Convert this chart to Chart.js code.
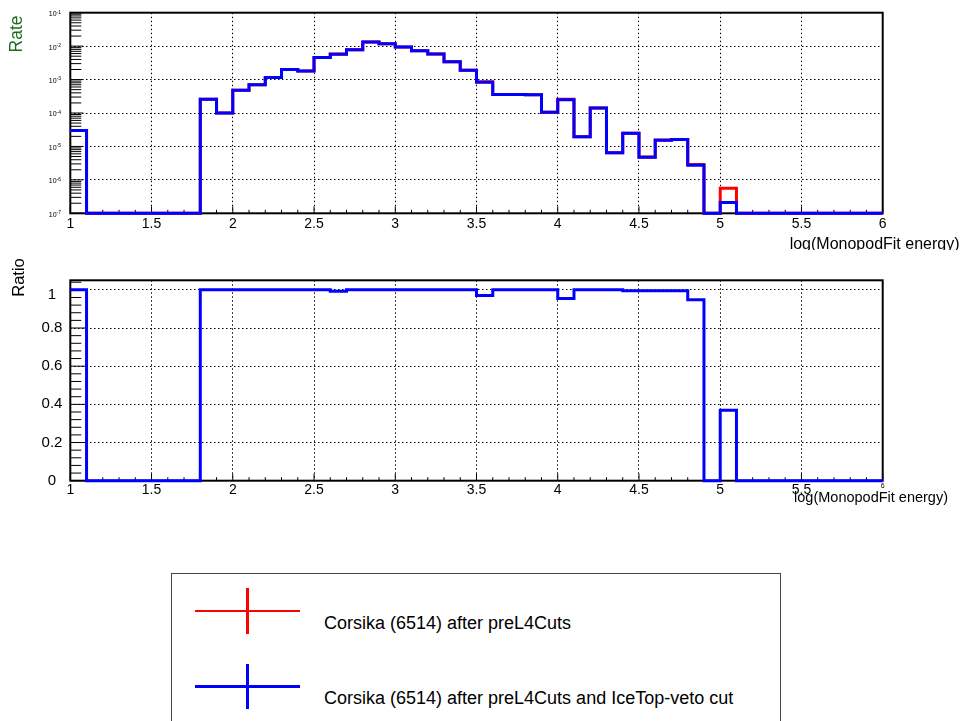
<!DOCTYPE html>
<html>
<head>
<meta charset="utf-8">
<title>Rate and ratio</title>
<script src="https://cdn.jsdelivr.net/npm/chart.js@4.4.1/dist/chart.umd.min.js"></script>
<style>
  body { margin: 0; background: #fff; }
  #wrap { position: relative; width: 964px; height: 721px; overflow: hidden;
          font-family: "Liberation Sans", Arial, Helvetica, sans-serif; }
  canvas { position: absolute; left: 0; }
  #rateChart { top: 0; }
  #ratioChart { top: 250px; }
  #legend { position: absolute; left: 171px; top: 573px; width: 610px; height: 170px;
            border: 1.5px solid #444; box-sizing: border-box; }
  .bar { position: absolute; }
  .entry { position: absolute; left: 324px; font-size: 18px; line-height: 20px; color: #000; white-space: nowrap; }
</style>
</head>
<body>
<div id="wrap">
  <canvas id="rateChart" width="964" height="250"></canvas>
  <canvas id="ratioChart" width="964" height="260"></canvas>
  <div id="legend"></div>
</div>
<script>
// bin edges of log(MonopodFit energy), 50 bins
const binEdges = [1.0, 1.1, 1.2, 1.3, 1.4, 1.5, 1.6, 1.7, 1.8, 1.9,
                  2.0, 2.1, 2.2, 2.3, 2.4, 2.5, 2.6, 2.7, 2.8, 2.9,
                  3.0, 3.1, 3.2, 3.3, 3.4, 3.5, 3.6, 3.7, 3.8, 3.9,
                  4.0, 4.1, 4.2, 4.3, 4.4, 4.5, 4.6, 4.7, 4.8, 4.9,
                  5.0, 5.1, 5.2, 5.3, 5.4, 5.5, 5.6, 5.7, 5.8, 5.9, 6.0];

// rate after preL4Cuts
const rateAll = [3.0e-5, 0, 0, 0, 0, 0, 0, 0, 2.6e-4, 1.0e-4,
                 4.8e-4, 7.0e-4, 1.15e-3, 2.0e-3, 1.8e-3, 4.6e-3, 5.8e-3, 7.8e-3, 1.33e-2, 1.18e-2,
                 9.4e-3, 7.3e-3, 5.8e-3, 3.4e-3, 1.9e-3, 8.6e-4, 3.6e-4, 3.6e-4, 3.5e-4, 1.05e-4,
                 2.6e-4, 1.95e-5, 1.4e-4, 6.5e-6, 2.5e-5, 4.8e-6, 1.55e-5, 1.62e-5, 2.9e-6, 0,
                 5.6e-7, 0, 0, 0, 0, 0, 0, 0, 0, 0];

// rate after preL4Cuts and IceTop-veto cut
const rateVeto = [3.0e-5, 0, 0, 0, 0, 0, 0, 0, 2.6e-4, 1.0e-4,
                  4.8e-4, 7.0e-4, 1.15e-3, 2.0e-3, 1.8e-3, 4.6e-3, 5.76e-3, 7.8e-3, 1.33e-2, 1.18e-2,
                  9.4e-3, 7.3e-3, 5.8e-3, 3.4e-3, 1.9e-3, 8.3e-4, 3.6e-4, 3.6e-4, 3.5e-4, 1.05e-4,
                  2.48e-4, 1.95e-5, 1.4e-4, 6.5e-6, 2.49e-5, 4.78e-6, 1.54e-5, 1.61e-5, 2.75e-6, 0,
                  2.1e-7, 0, 0, 0, 0, 0, 0, 0, 0, 0];

// ratio veto / all
const ratioVeto = [1, 0, 0, 0, 0, 0, 0, 0, 1, 1,
                   1, 1, 1, 1, 1, 1, 0.993, 1, 1, 1,
                   1, 1, 1, 1, 1, 0.97, 1, 1, 1, 1,
                   0.955, 1, 1, 1, 0.995, 0.995, 0.995, 0.995, 0.948, 0,
                   0.369, 0, 0, 0, 0, 0, 0, 0, 0, 0];

const xTicks = [1, 1.5, 2, 2.5, 3, 3.5, 4, 4.5, 5, 5.5, 6];
const rateTicks = [1e-7, 1e-6, 1e-5, 1e-4, 1e-3, 1e-2, 1e-1];
const ratioTicks = [0, 0.2, 0.4, 0.6, 0.8, 1];

const seriesLabels = ['Corsika (6514) after preL4Cuts', 'Corsika (6514) after preL4Cuts and IceTop-veto cut'];
const seriesColors = ['#ff0000', '#0000ff'];

const rateMin = 1e-7, rateMax = 1e-1;
const FONT = '"Liberation Sans", Arial, Helvetica, sans-serif';
Chart.defaults.font.family = FONT;
Chart.defaults.color = '#000';

// histogram as step line: one point per lower edge + closing point at the last edge
function stepPoints(values, floor) {
  const pts = values.map((v, i) => ({ x: binEdges[i], y: v > 0 ? v : floor }));
  pts.push({ x: binEdges[binEdges.length - 1], y: pts[pts.length - 1].y });
  return pts;
}

function line(ctx, x1, y1, x2, y2) {
  ctx.beginPath(); ctx.moveTo(x1, y1); ctx.lineTo(x2, y2); ctx.stroke();
}

// ROOT-like frame, inner tick marks, labels and titles
function makeRootAxes(cfg) {
  return {
    id: 'rootAxes',
    beforeDatasetsDraw(chart) {
      const { ctx, chartArea: a, scales } = chart;
      const xs = scales.x, ys = scales.y;
      ctx.save();
      ctx.strokeStyle = '#000';
      ctx.lineWidth = 1;
      binEdges.forEach(v => {
        const px = xs.getPixelForValue(v);
        const len = xTicks.includes(v) ? cfg.xMajor : cfg.xMinor;
        line(ctx, px, a.bottom, px, a.bottom - len);
      });
      cfg.yMarks.forEach(m => {
        const py = ys.getPixelForValue(m.v);
        line(ctx, a.left, py, a.left + m.len, py);
      });
      ctx.lineWidth = 2;
      ctx.strokeRect(a.left, a.top, a.right - a.left, a.bottom - a.top);
      ctx.fillStyle = '#000';
      cfg.yLabels(ctx, ys);
      cfg.titles.forEach(t => {
        ctx.save();
        ctx.font = t.size + 'px ' + FONT;
        ctx.fillStyle = t.color || '#000';
        ctx.textAlign = t.align;
        ctx.textBaseline = 'middle';
        ctx.translate(t.x, t.y);
        if (t.rotate) ctx.rotate(-Math.PI / 2);
        ctx.fillText(t.text, 0, 0);
        ctx.restore();
      });
      ctx.restore();
    }
  };
}

const rateMarks = [];
rateTicks.forEach((d, i) => {
  rateMarks.push({ v: d, len: 13 });
  if (i < rateTicks.length - 1) {
    for (let k = 2; k <= 9; k++) rateMarks.push({ v: k * d, len: 11 });
  }
});
const ratioMarks = [];
for (let k = 0; k <= 26; k++) ratioMarks.push({ v: k * 0.04, len: k % 5 === 0 ? 17 : 11 });

const histStyle = { borderWidth: 3, pointRadius: 0, stepped: true, fill: false, tension: 0, clip: false };
const gridStyle = { color: '#000', lineWidth: 1, drawTicks: false };
const dotted = { display: false, dash: [1.5, 2.5] };

new Chart(document.getElementById('rateChart'), {
  type: 'line',
  data: {
    datasets: [
      Object.assign({ label: seriesLabels[0], data: stepPoints(rateAll, rateMin), borderColor: seriesColors[0], order: 2 }, histStyle),
      Object.assign({ label: seriesLabels[1], data: stepPoints(rateVeto, rateMin), borderColor: seriesColors[1], order: 1 }, histStyle)
    ]
  },
  options: {
    responsive: false,
    animation: false,
    layout: { padding: { top: 12.7, right: 81.3, left: 0, bottom: 0 } },
    scales: {
      x: {
        type: 'linear', min: 1, max: 6,
        afterBuildTicks: s => { s.ticks = xTicks.map(v => ({ value: v })); },
        afterFit: s => { s.height = 36.7; },
        grid: gridStyle, border: dotted,
        ticks: { padding: 2, font: { size: 14 }, maxRotation: 0, autoSkip: false, callback: v => String(v) }
      },
      y: {
        type: 'logarithmic', min: rateMin, max: rateMax,
        afterBuildTicks: s => { s.ticks = rateTicks.map(v => ({ value: v })); },
        afterFit: s => { s.width = 70.3; },
        grid: gridStyle, border: dotted,
        ticks: { display: false }
      }
    },
    plugins: { legend: { display: false }, tooltip: { enabled: false } }
  },
  plugins: [makeRootAxes({
    xMajor: 7, xMinor: 3.5, yMarks: rateMarks,
    yLabels: (ctx, ys) => {
      rateTicks.forEach(v => {
        const py = ys.getPixelForValue(v);
        const exp = String(Math.round(Math.log10(v)));
        ctx.textAlign = 'right';
        ctx.textBaseline = 'alphabetic';
        ctx.font = '5px ' + FONT;
        const ew = ctx.measureText(exp).width;
        ctx.fillText(exp, 61, py + 0.8);
        ctx.font = '7px ' + FONT;
        ctx.fillText('10', 61 - ew, py + 3.4);
      });
    },
    titles: [
      { text: 'Rate', x: 17.5, y: 34, size: 17.5, color: '#1e6b1e', align: 'center', rotate: true },
      { text: 'log(MonopodFit energy)', x: 959.5, y: 245, size: 16, align: 'right' }
    ]
  })]
});

new Chart(document.getElementById('ratioChart'), {
  type: 'line',
  data: {
    datasets: [
      Object.assign({ label: 'Ratio', data: stepPoints(ratioVeto, 0), borderColor: seriesColors[1] }, histStyle)
    ]
  },
  options: {
    responsive: false,
    animation: false,
    layout: { padding: { top: 30.3, right: 81.3, left: 0, bottom: 0 } },
    scales: {
      x: {
        type: 'linear', min: 1, max: 6,
        afterBuildTicks: s => { s.ticks = xTicks.map(v => ({ value: v })); },
        afterFit: s => { s.height = 29.3; },
        grid: gridStyle, border: dotted,
        ticks: {
          padding: 1, maxRotation: 0, autoSkip: false, callback: v => String(v),
          font: c => ({ size: c.tick && c.tick.value === 6 ? 7 : 14 })
        }
      },
      y: {
        type: 'linear', min: 0, max: 1.05,
        afterBuildTicks: s => { s.ticks = ratioTicks.map(v => ({ value: v })); },
        afterFit: s => { s.width = 70.3; },
        grid: gridStyle, border: dotted,
        ticks: { display: false }
      }
    },
    plugins: { legend: { display: false }, tooltip: { enabled: false } }
  },
  plugins: [makeRootAxes({
    xMajor: 7, xMinor: 3.5, yMarks: ratioMarks,
    yLabels: (ctx, ys) => {
      ctx.font = '15px ' + FONT;
      ctx.textAlign = 'center';
      ctx.textBaseline = 'middle';
      ratioTicks.forEach(v => {
        // ROOT pushes the top label slightly down
        const py = ys.getPixelForValue(v) + (v === 1 ? 5 : 0);
        ctx.fillText(String(v), 52, py);
      });
    },
    titles: [
      { text: 'Ratio', x: 19, y: 27.5, size: 16.5, align: 'center', rotate: true },
      { text: 'log(MonopodFit energy)', x: 948, y: 248, size: 14.5, align: 'right' }
    ]
  })]
});

// legend box: cross markers + labels
const wrap = document.getElementById('wrap');
const rowY = [611, 686.3];
seriesLabels.forEach((txt, i) => {
  const h = document.createElement('div');
  h.className = 'bar';
  h.style.cssText = `left:195px;top:${rowY[i] - 1.3}px;width:105px;height:2.6px;background:${seriesColors[i]}`;
  const v = document.createElement('div');
  v.className = 'bar';
  v.style.cssText = `left:246.4px;top:${rowY[i] - 22.7}px;width:2.6px;height:45.4px;background:${seriesColors[i]}`;
  const t = document.createElement('div');
  t.className = 'entry';
  t.style.top = (rowY[i] + 11.5 - 10) + 'px';
  t.textContent = txt;
  wrap.append(h, v, t);
});
</script>
</body>
</html>
